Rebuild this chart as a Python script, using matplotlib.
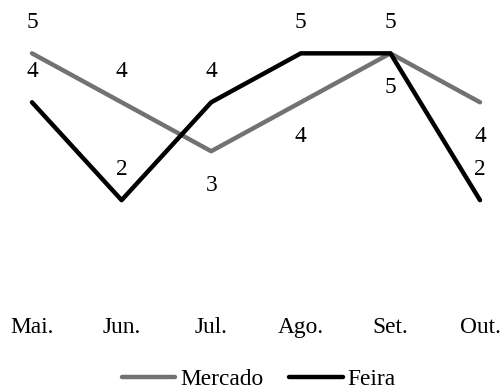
#!/usr/bin/env python3
# -*- coding: utf-8 -*-

import matplotlib.pyplot as plt
import matplotlib as mpl

mpl.rcParams['font.family'] = ['Liberation Serif', 'DejaVu Serif']
mpl.rcParams['font.size'] = 16.8

# Données
meses = ['Mai.', 'Jun.', 'Jul.', 'Ago.', 'Set.', 'Out.']
mercado = [5, 4, 3, 4, 5, 4]
feira = [4, 2, 4, 5, 5, 2]

# position des étiquettes de valeur (au-dessus / en dessous)
pos_mercado = ['up', 'up', 'down', 'down', 'down', 'down']
pos_feira = ['up', 'up', 'up', 'up', 'up', 'up']

cor_mercado = '#767171'
cor_feira = '#000000'

fig = plt.figure(figsize=(5.03, 3.90), dpi=100)
ax = fig.add_axes([0, 1 - 300 / 390, 1, 300 / 390])

x = list(range(len(meses)))
l1, = ax.plot(x, mercado, color=cor_mercado, lw=3.2, solid_capstyle='round',
              label='Mercado')
l2, = ax.plot(x, feira, color=cor_feira, lw=3.2, solid_capstyle='round',
              label='Feira')


def etiquetas(valores, posicoes):
    for xi, v, p in zip(x, valores, posicoes):
        dy = 31 if p == 'up' else -34
        ax.annotate(str(v), (xi, v), xytext=(0, dy), textcoords='offset pixels',
                    ha='center', va='center')


etiquetas(mercado, pos_mercado)
etiquetas(feira, pos_feira)

ax.set_xlim(-32 / 89.6, (503 - 32) / 89.6)
ax.set_ylim(-0.04, 6.09)
ax.set_xticks(x)
ax.set_xticklabels(meses)
ax.set_yticks([])
ax.tick_params(axis='x', length=0, pad=12.5)
for s in ax.spines.values():
    s.set_visible(False)

fig.legend(handles=[l1, l2], loc='center',
           bbox_to_anchor=(0.5 + 7 / 503, 1 - 379 / 390),
           ncol=2, frameon=False, handlelength=2.3, handletextpad=0.2,
           columnspacing=1.1, borderaxespad=0)

fig.savefig('out.png', dpi=100)
